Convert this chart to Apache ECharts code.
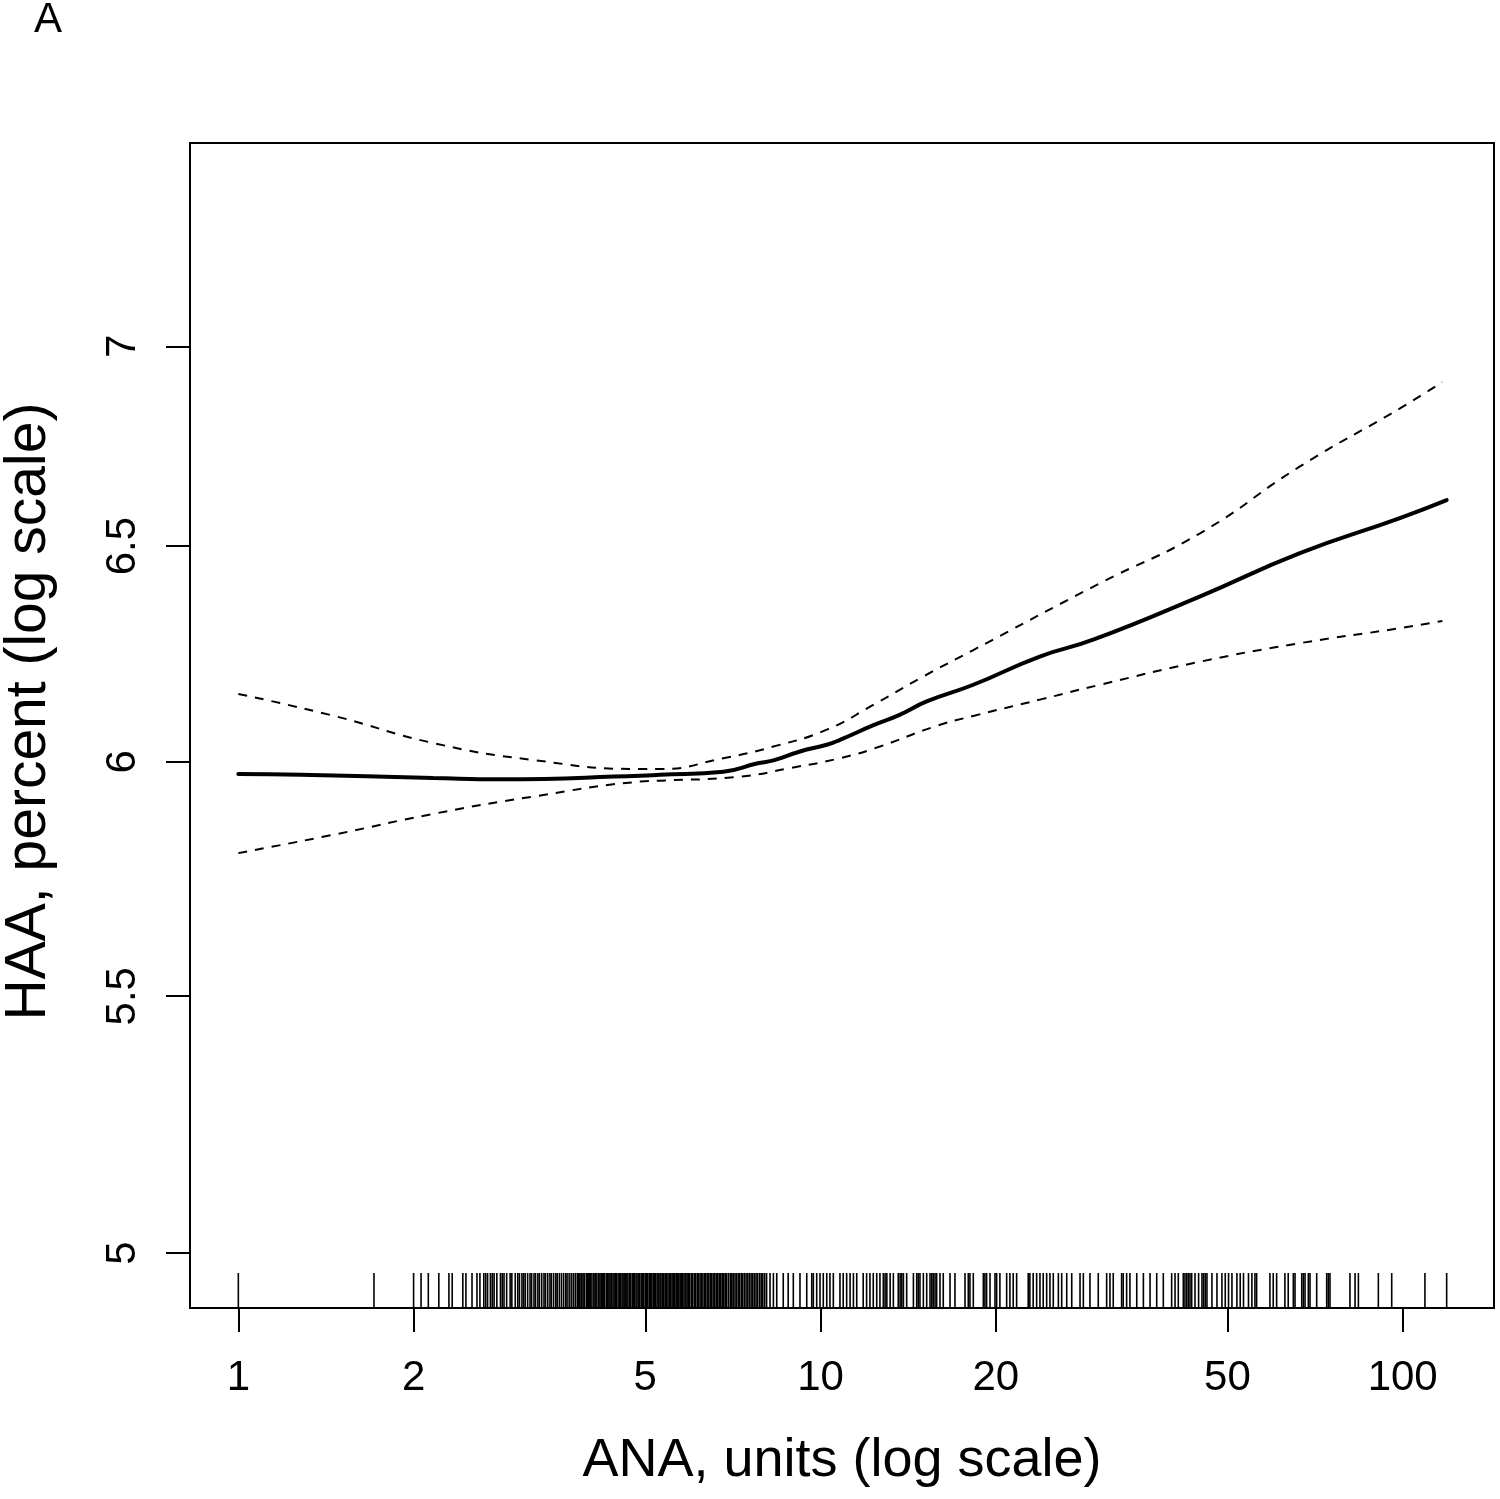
<!DOCTYPE html>
<html><head><meta charset="utf-8">
<script src="https://cdn.jsdelivr.net/npm/echarts@6/dist/echarts.min.js"></script>
<style>html,body{margin:0;padding:0;background:#fff}#c{width:1500px;height:1499px}</style>
</head><body><div id="c"></div>
<script>
// ---- data (raw values; axes are log10) ----
const xTickValues = [1, 2, 5, 10, 20, 50, 100];
const yTickValues = [5, 5.5, 6, 6.5, 7];
const xRange = [0.826, 143.5];
const yRange = [4.899, 7.549];

const fitX = [1, 1.28, 2.16, 2.82, 4.9, 5.3, 6.81, 7.77, 8.3, 9.22, 10.25, 10.8, 12.33, 13.7, 15.22, 18.3, 23.8, 29.4, 44.9, 66.6, 98.9, 119];
const fitY = [5.973, 5.971, 5.964, 5.961, 5.969, 5.971, 5.978, 5.996, 6.003, 6.023, 6.038, 6.049, 6.082, 6.106, 6.136, 6.174, 6.239, 6.278, 6.380, 6.483, 6.568, 6.612];

const upperX = [1, 1.46, 2.16, 3.21, 4.9, 5.3, 6.81, 8.3, 10.25, 12.32, 15.02, 18.3, 30.2, 44.86, 66.61, 98.93, 117];
const upperY = [6.153, 6.103, 6.042, 6.004, 5.984, 5.984, 6.008, 6.034, 6.072, 6.128, 6.193, 6.254, 6.411, 6.531, 6.695, 6.841, 6.908];

const lowerX = [1, 1.46, 2.16, 3.21, 4.9, 5.3, 7.27, 8.86, 10.8, 12.65, 15.62, 18.3, 23.82, 30.2, 44.86, 66.61, 98.93, 117];
const lowerY = [5.800, 5.840, 5.885, 5.923, 5.956, 5.958, 5.967, 5.986, 6.008, 6.034, 6.078, 6.103, 6.140, 6.174, 6.227, 6.270, 6.305, 6.322];

const rugX = [
  1.0, 1.71, 2.0, 2.06, 2.12, 2.21, 2.30, 2.33, 2.43, 2.46, 2.52, 2.57,
  2.60, 2.64, 2.66, 2.68, 2.71, 2.73, 2.75, 2.78, 2.82, 2.84, 2.86, 2.89, 2.93, 2.95, 2.99,
  3.02, 3.04, 3.07, 3.09, 3.11, 3.14, 3.17, 3.19, 3.22, 3.24, 3.27, 3.29, 3.32, 3.35, 3.37, 3.40,
  3.43, 3.45, 3.48, 3.51, 3.53, 3.56, 3.59, 3.62, 3.65, 3.67, 3.70, 3.73, 3.76, 3.79, 3.82, 3.84,
  3.86, 3.88, 3.89, 3.91, 3.93, 3.96, 3.98, 3.99, 4.01, 4.03, 4.05, 4.08, 4.10, 4.11, 4.13, 4.16,
  4.18, 4.20, 4.22, 4.24, 4.26, 4.29, 4.31, 4.33, 4.35, 4.37, 4.40, 4.42, 4.44, 4.46, 4.49, 4.51,
  4.53, 4.56, 4.58, 4.60, 4.63, 4.65, 4.67, 4.70, 4.72, 4.75, 4.77, 4.79, 4.82, 4.84, 4.87, 4.89,
  4.92, 4.95, 4.97, 5.00, 5.02, 5.05, 5.08, 5.10, 5.13, 5.16, 5.18, 5.21, 5.24, 5.27, 5.30, 5.32,
  5.35, 5.38, 5.41, 5.44, 5.47, 5.50, 5.53, 5.56, 5.59, 5.62, 5.65, 5.68, 5.71, 5.74, 5.77, 5.80,
  5.83, 5.87, 5.90, 5.93, 5.96, 6.00, 6.03, 6.07, 6.10, 6.14, 6.17, 6.21, 6.24, 6.28, 6.32, 6.35,
  6.39, 6.43, 6.47, 6.50, 6.54, 6.58, 6.62, 6.66, 6.70, 6.74, 6.78, 6.82, 6.86, 6.90, 6.95, 7.00,
  7.04, 7.08, 7.13, 7.17, 7.22, 7.26, 7.31, 7.35, 7.40, 7.45, 7.50, 7.55, 7.60, 7.65, 7.70, 7.75,
  7.80, 7.86, 7.91, 7.96, 8.02, 8.08,
  8.19, 8.30, 8.41, 8.63, 8.80, 8.98, 9.22, 9.47, 9.66, 9.72, 9.85, 9.98, 10.11, 10.25, 10.38, 10.52,
  10.80, 10.94, 11.09, 11.24, 11.39, 11.54, 11.84, 12.0, 12.16, 12.32, 12.49, 12.65,
  12.82, 12.91, 13.0, 13.17, 13.34, 13.6, 13.70, 13.79, 13.88, 14.06, 14.44, 14.63, 14.72, 14.82,
  15.02, 15.22, 15.42, 15.53, 15.62, 15.73, 15.83, 16.04, 16.25, 16.69, 17.02, 17.71, 17.94, 18.06,
  18.30, 19.04, 19.16, 19.29, 19.55, 19.94, 20.07, 20.33, 20.88, 21.15, 21.43, 21.72, 22.74, 22.89,
  23.19, 23.51, 23.82, 24.13, 24.46, 24.78, 25.11, 25.62, 25.96, 26.48, 27.01, 27.91, 28.28, 29.03,
  30.0, 31.01, 31.42, 31.83, 32.90, 33.11, 33.56, 34.0, 34.93, 35.86, 36.82, 37.80, 38.80,
  40.1, 40.64, 41.17, 41.99, 42.27, 42.56, 42.83, 43.12, 43.41, 43.98, 44.61, 45.21, 45.5, 45.8,
  46.11, 47.03, 47.97, 48.92, 49.57, 50.22, 50.9, 51.91, 52.59, 53.28, 54.34, 55.08, 55.75, 56.12,
  59.15, 59.93, 60.74, 62.76, 63.59, 64.89, 65.32, 67.08, 67.5, 67.96, 68.85, 69.31, 71.17,
  74.04, 74.51, 75.01, 81.18, 82.83, 83.93, 90.82, 95.75, 109.2, 119.0
];

const L = Math.log10;
const FONT = "'Liberation Sans', Arial, Helvetica, sans-serif";
const pairs = (xs, ys) => xs.map((x, i) => [L(x), L(ys[i])]);
const fmt = v => { const r = Math.pow(10, v); return String(Math.round(r * 10) / 10); };

const chart = echarts.init(document.getElementById('c'));
chart.setOption({
  animation: false,
  backgroundColor: '#fff',
  graphic: [{
    type: 'text', left: 34, top: -1,
    style: { text: 'A', font: '42px ' + FONT, fill: '#000' }
  }],
  grid: { left: 190, top: 143, right: 6, bottom: 191, containLabel: false, outerBoundsMode: 'none', show: true, borderColor: '#000', borderWidth: 2, backgroundColor: 'transparent' },
  xAxis: {
    type: 'value', min: L(xRange[0]), max: L(xRange[1]),
    name: 'ANA, units (log scale)', nameLocation: 'middle', nameGap: 126,
    nameTextStyle: { fontSize: 54, fontFamily: FONT, color: '#000' },
    splitLine: { show: false },
    axisLine: { show: false, onZero: false },
    axisTick: { show: true, length: 24, lineStyle: { color: '#000', width: 2 }, customValues: xTickValues.map(L) },
    axisLabel: { show: true, margin: 49, fontSize: 42, fontFamily: FONT, color: '#000', customValues: xTickValues.map(L), formatter: fmt }
  },
  yAxis: {
    type: 'value', min: L(yRange[0]), max: L(yRange[1]),
    name: 'HAA, percent (log scale)', nameLocation: 'middle', nameGap: 132,
    nameTextStyle: { fontSize: 57, fontFamily: FONT, color: '#000', padding: [0, 0, 0, 28] },
    splitLine: { show: false },
    axisLine: { show: false, onZero: false },
    axisTick: { show: true, length: 24, lineStyle: { color: '#000', width: 2 }, customValues: yTickValues.map(L) },
    axisLabel: { show: true, margin: 46, rotate: 90, fontSize: 42, fontFamily: FONT, color: '#000', customValues: yTickValues.map(L), formatter: fmt }
  },
  series: [
    { type: 'line', data: pairs(fitX, fitY), showSymbol: false, smooth: 0.5, lineStyle: { color: '#000', width: 4, cap: 'round' }, z: 3 },
    { type: 'line', data: pairs(upperX, upperY), showSymbol: false, smooth: 0.5, lineStyle: { color: '#000', width: 2, type: [9, 8] }, z: 2 },
    { type: 'line', data: pairs(lowerX, lowerY), showSymbol: false, smooth: 0.5, lineStyle: { color: '#000', width: 2, type: [9, 8] }, z: 2 },
    {
      type: 'custom', silent: true, z: 2,
      data: rugX.map(v => [L(v), L(yRange[0])]),
      encode: { x: 0, y: 1 },
      renderItem: (params, api) => {
        const p = api.coord([api.value(0), api.value(1)]);
        return { type: 'line', shape: { x1: p[0], y1: p[1], x2: p[0], y2: p[1] - 35 }, style: { stroke: '#000', lineWidth: 1.6 } };
      }
    }
  ]
});
</script></body></html>
